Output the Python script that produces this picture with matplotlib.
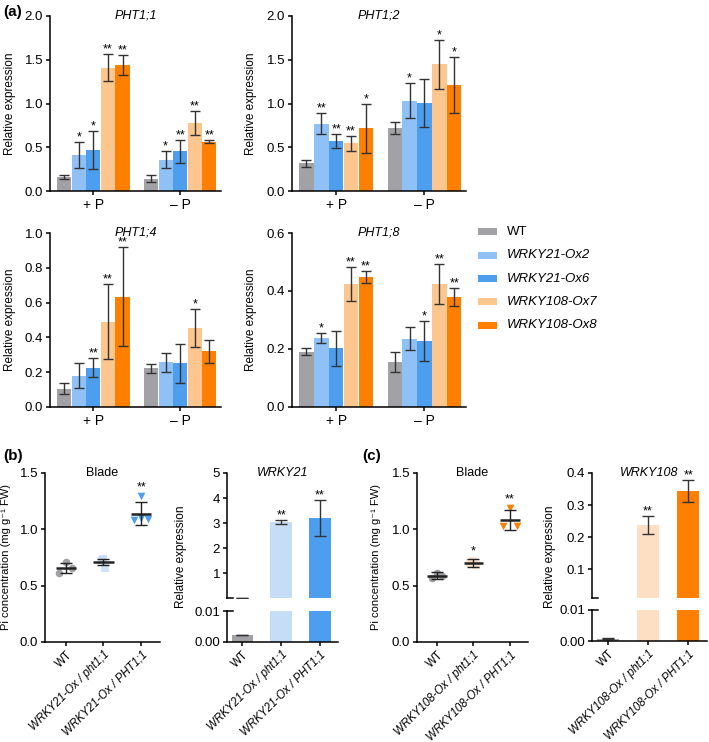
import matplotlib
matplotlib.use("Agg")
import matplotlib.pyplot as plt
from matplotlib.patches import Rectangle
import numpy as np

plt.rcParams["font.family"] = ["Liberation Sans", "DejaVu Sans"]
plt.rcParams["font.size"] = 9
plt.rcParams["axes.linewidth"] = 1.1
plt.rcParams["xtick.major.width"] = 1.1
plt.rcParams["ytick.major.width"] = 1.1
plt.rcParams["xtick.major.size"] = 3
plt.rcParams["ytick.major.size"] = 3

W, H = 709, 742

# ---------- data: (a) ----------
lines = ["WT", "WRKY21-Ox2", "WRKY21-Ox6", "WRKY108-Ox7", "WRKY108-Ox8"]
conditions = ["+ P", "\u2013 P"]
genes = ["PHT1;1", "PHT1;2", "PHT1;4", "PHT1;8"]

pht11_mean = [[0.16, 0.41, 0.47, 1.41, 1.44], [0.14, 0.36, 0.455, 0.775, 0.565]]
pht11_sd = [[0.025, 0.145, 0.215, 0.155, 0.11], [0.04, 0.10, 0.13, 0.135, 0.015]]
pht11_sig = [["", "*", "*", "**", "**"], ["", "*", "**", "**", "**"]]

pht12_mean = [[0.32, 0.77, 0.57, 0.545, 0.715], [0.72, 1.03, 1.005, 1.45, 1.21]]
pht12_sd = [[0.04, 0.12, 0.08, 0.085, 0.275], [0.07, 0.20, 0.27, 0.28, 0.32]]
pht12_sig = [["", "**", "**", "**", "*"], ["", "*", "", "*", "*"]]

pht14_mean = [[0.105, 0.18, 0.225, 0.49, 0.635], [0.222, 0.257, 0.25, 0.452, 0.32]]
pht14_sd = [[0.033, 0.07, 0.055, 0.215, 0.285], [0.025, 0.053, 0.11, 0.11, 0.065]]
pht14_sig = [["", "", "**", "**", "**"], ["", "", "", "*", ""]]

pht18_mean = [[0.19, 0.237, 0.202, 0.425, 0.448], [0.155, 0.235, 0.228, 0.424, 0.38]]
pht18_sd = [[0.012, 0.017, 0.06, 0.058, 0.022], [0.035, 0.04, 0.07, 0.07, 0.03]]
pht18_sig = [["", "*", "", "**", "**"], ["", "", "*", "**", "**"]]

# ---------- data: (b) / (c) ----------
b_groups = ["WT", "WRKY21-Ox / pht1;1", "WRKY21-Ox / PHT1;1"]
c_groups = ["WT", "WRKY108-Ox / pht1;1", "WRKY108-Ox / PHT1;1"]

b_pi_points = [[0.61, 0.66, 0.71], [0.74, 0.73, 0.66], [1.30, 1.08, 1.10, 1.09]]
b_pi_mean = [0.66, 0.71, 1.14]
b_pi_sd = [0.045, 0.03, 0.105]
b_pi_sig = ["", "", "**"]

c_pi_points = [[0.57, 0.59, 0.61], [0.72, 0.70, 0.68], [1.19, 1.03, 1.03]]
c_pi_mean = [0.59, 0.70, 1.08]
c_pi_sd = [0.03, 0.035, 0.09]
c_pi_sig = ["", "*", "**"]

w21_mean = [0.0023, 3.05, 3.2]
w21_sd = [0.0001, 0.09, 0.73]
w21_sig = ["", "**", "**"]

w108_mean = [0.0008, 0.237, 0.343]
w108_sd = [0.0003, 0.028, 0.034]
w108_sig = ["", "**", "**"]

# ---------- style ----------
line_colors = ["#a2a2a6", "#8fc1f6", "#4e9ef0", "#fdc68f", "#ff8000"]
ERR = "#333333"
b_colors = ["#a2a2a6", "#c6ddf8", "#4e9ef0"]
c_colors = ["#a2a2a6", "#fde0c4", "#ff8000"]
markers = ["o", "s", "v"]
b_jit = [[-0.19, 0.16, 0.0], [0.0, -0.05, 0.05], [0.0, -0.19, 0.0, 0.19]]
c_jit = [[-0.15, 0.15, 0.0], [0.0, -0.08, 0.08], [0.0, -0.2, 0.2]]
TICK_FS = 9.5
ROT_FS = 8.3

fig = plt.figure(figsize=(W / 100, H / 100), dpi=100)


def px(l, t, r, b):
    return [l / W, 1 - b / H, (r - l) / W, (b - t) / H]


def style(ax):
    ax.spines["top"].set_visible(False)
    ax.spines["right"].set_visible(False)
    ax.tick_params(direction="out", labelsize=TICK_FS, pad=2)


def fmt(ticks, nd):
    return [f"{t:.{nd}f}" for t in ticks]


def star(ax, x, y, s):
    if s:
        ax.annotate(s, (x, y), xytext=(0, -1), textcoords="offset points",
                    ha="center", va="bottom", fontsize=9)


def bar_panel(rect, title, mean, sd, sig, yticks):
    ax = fig.add_axes(px(*rect))
    style(ax)
    w = 0.168
    for g in range(2):
        for i in range(5):
            x = g + (i - 2) * w
            ax.bar(x, mean[g][i], w * 0.97, color=line_colors[i], lw=0)
            ax.errorbar(x, mean[g][i], yerr=sd[g][i], color=ERR, lw=1,
                        capsize=3.5, capthick=1)
            star(ax, x, mean[g][i] + sd[g][i], sig[g][i])
    ax.set_xlim(-0.5, 1.47)
    ax.set_ylim(0, yticks[-1])
    ax.set_yticks(yticks)
    ax.set_yticklabels(fmt(yticks, 1))
    ax.set_xticks([0, 1])
    ax.set_xticklabels(conditions, fontsize=10)
    ax.set_ylabel("Relative expression", fontsize=8.5)
    ax.yaxis.set_label_coords(-0.2, 0.5)
    ax.text(0.5, 1.005, title, transform=ax.transAxes, ha="center", va="center",
            style="italic", fontsize=9)
    return ax


bar_panel((50, 16, 221, 191), genes[0], pht11_mean, pht11_sd, pht11_sig,
          [0, 0.5, 1.0, 1.5, 2.0])
bar_panel((292, 16, 466, 191), genes[1], pht12_mean, pht12_sd, pht12_sig,
          [0, 0.5, 1.0, 1.5, 2.0])
bar_panel((50, 233, 221, 407), genes[2], pht14_mean, pht14_sd, pht14_sig,
          [0, 0.2, 0.4, 0.6, 0.8, 1.0])
bar_panel((292, 233, 466, 407), genes[3], pht18_mean, pht18_sd, pht18_sig,
          [0, 0.2, 0.4, 0.6])

# legend drawn by hand
for i, name in enumerate(lines):
    yc = 232 + i * 23.3
    fig.add_artist(Rectangle((478 / W, 1 - (yc + 3.5) / H), 19 / W, 7 / H,
                             transform=fig.transFigure, color=line_colors[i], lw=0))
    fig.text(507 / W, 1 - yc / H, name, va="center", ha="left", fontsize=9.5,
             style="normal" if name == "WT" else "italic")


def pi_panel(rect, groups, points, mean, sd, sig, colors, jit, ylx):
    ax = fig.add_axes(px(*rect))
    style(ax)
    for i in range(3):
        xs = i + np.array(jit[i])
        ax.scatter(xs, points[i], marker=markers[i], s=30, color=colors[i],
                   alpha=0.85 if i == 1 else 1.0, lw=0, zorder=2)
        ax.hlines(mean[i], i - 0.27, i + 0.27, color="#222222", lw=1.8, zorder=3)
        ax.errorbar(i, mean[i], yerr=sd[i], color="#222222", lw=1, capsize=4,
                    capthick=1, zorder=3)
        star(ax, i, max(max(points[i]), mean[i] + sd[i]) + 0.03, sig[i])
    ax.set_xlim(-0.55, 2.5)
    ax.set_ylim(0, 1.5)
    ax.set_yticks([0, 0.5, 1.0, 1.5])
    ax.set_yticklabels(fmt([0, 0.5, 1.0, 1.5], 1))
    ax.set_xticks([0, 1, 2])
    ax.set_xticklabels(groups, rotation=45, ha="right", rotation_mode="anchor",
                       fontsize=ROT_FS)
    for j, t in enumerate(ax.get_xticklabels()):
        if j > 0:
            t.set_style("italic")
    ax.set_ylabel("Pi concentration (mg g\u207b\u00b9 FW)", fontsize=8)
    ax.yaxis.set_label_coords(ylx, 0.5)
    ax.text(0.5, 1.0, "Blade", transform=ax.transAxes, ha="center",
            va="center", fontsize=9)
    return ax


def broken_panel(x0, x1, top, brk, low_top, bottom, groups, mean, sd, sig,
                 colors, up_ticks, up_nd, title, ylab_x):
    up = fig.add_axes(px(x0, top, x1, brk))
    lo = fig.add_axes(px(x0, low_top, x1, bottom))
    for ax in (up, lo):
        style(ax)
        for i in range(3):
            ax.bar(i, mean[i], 0.56, color=colors[i], lw=0)
            ax.errorbar(i, mean[i], yerr=sd[i], color=ERR, lw=1, capsize=4,
                        capthick=1)
        ax.set_xlim(-0.4, 2.47)
    up.spines["bottom"].set_visible(False)
    up.set_xticks([])
    up.set_ylim(0.01, up_ticks[-1])
    up.set_yticks(up_ticks)
    up.set_yticklabels(fmt(up_ticks, up_nd))
    for i in range(3):
        star(up, i, mean[i] + sd[i], sig[i])
    up.text(0.5, 1.0, title, transform=up.transAxes, ha="center",
            va="center", style="italic", fontsize=9)
    lo.set_ylim(0, 0.01)
    lo.set_yticks([0, 0.01])
    lo.set_yticklabels(["0.00", "0.01"])
    lo.set_xticks([0, 1, 2])
    lo.set_xticklabels(groups, rotation=45, ha="right", rotation_mode="anchor",
                       fontsize=ROT_FS)
    for j, t in enumerate(lo.get_xticklabels()):
        if j > 0:
            t.set_style("italic")
    # break marks
    up.plot([0, 0.05], [0, 0], transform=up.transAxes, color="k", lw=1.1,
            clip_on=False)
    lo.plot([0, 0.05], [1, 1], transform=lo.transAxes, color="k", lw=1.1,
            clip_on=False)
    fig.text(ylab_x / W, 1 - 557 / H, "Relative expression", rotation=90,
             ha="center", va="center", fontsize=8.5)


pi_panel((45, 473, 160, 642), b_groups, b_pi_points, b_pi_mean, b_pi_sd,
         b_pi_sig, b_colors, b_jit, -0.295)
broken_panel(227, 338, 473, 598, 611, 642, b_groups, w21_mean, w21_sd, w21_sig,
             b_colors, [1, 2, 3, 4, 5], 0, "WRKY21", 181)
pi_panel((417, 473, 528, 642), c_groups, c_pi_points, c_pi_mean, c_pi_sd,
         c_pi_sig, c_colors, c_jit, -0.32)
broken_panel(592, 707, 473, 598, 610, 641, c_groups, w108_mean, w108_sd,
             w108_sig, c_colors, [0.1, 0.2, 0.3, 0.4], 1, "WRKY108", 550)

# panel letters
fig.text(3 / W, 1 - 12 / H, "(a)", fontsize=11, fontweight="bold", va="center")
fig.text(3 / W, 1 - 456 / H, "(b)", fontsize=11, fontweight="bold", va="center")
fig.text(362 / W, 1 - 456 / H, "(c)", fontsize=11, fontweight="bold", va="center")

fig.savefig("out.png", dpi=100)
